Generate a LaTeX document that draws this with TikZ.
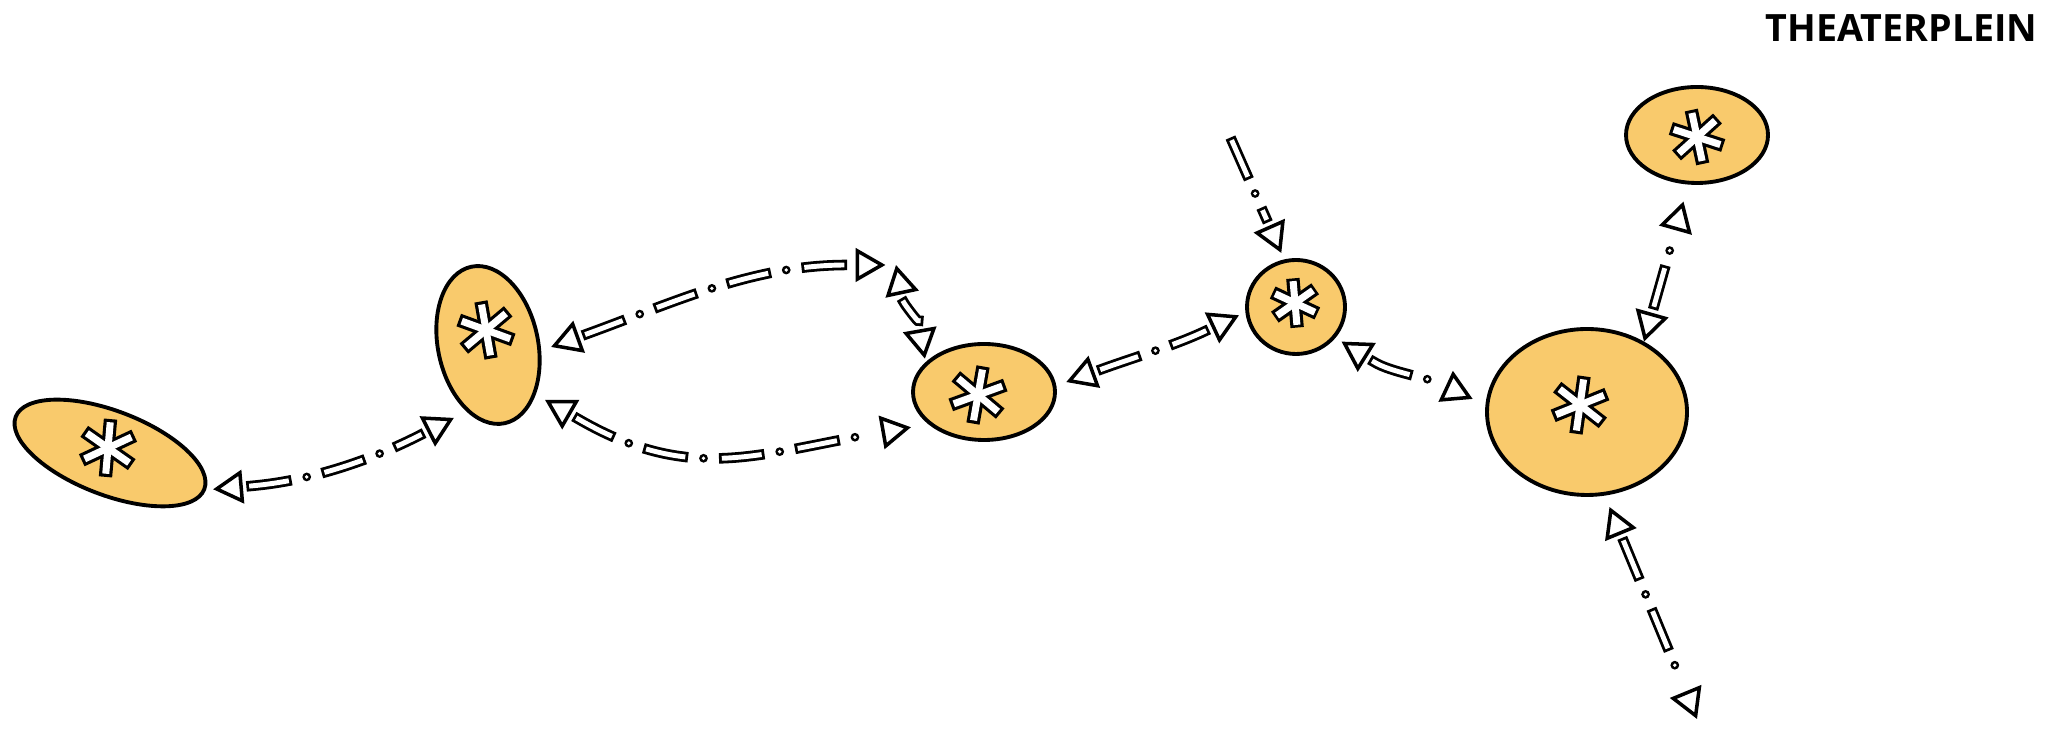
\documentclass[tikz,border=0pt]{standalone}
\usepackage{fontspec}
\setsansfont{Open Sans}
\usepackage{tikz}
\usetikzlibrary{arrows.meta,shapes.geometric}
\definecolor{spotc}{HTML}{F9CA6C}
\tikzset{
  >={Triangle[open,length=8.5pt,width=9.5pt,line width=1pt]},
  ast/.pic={\foreach \a in {90,30,150} \draw[line width=3.8pt] (\a:0.29) -- (\a+180:0.29);
            \foreach \a in {90,30,150} \draw[white,line width=2pt] (\a:0.258) -- (\a+180:0.258);},
}
\begin{document}
\begin{tikzpicture}[
  spot/.style={ellipse,draw,line width=1.1pt,fill=spotc,inner sep=0pt},
  rtbar/.style={double=white,double distance=1.4pt,line width=0.8pt,line cap=rect,dash pattern=on 10pt off 11.8pt},
  rtdot/.style={double=white,double distance=1.1pt,line width=0.7pt,line cap=round,dash pattern=on 0pt off 21.8pt,dash phase=5.9pt},
  rt/.style 2 args={<->,line width=1pt,dash pattern=on 0pt off 600pt,shorten <=#1,shorten >=#2,
    preaction={draw,-,rtbar,shorten <=#1+11pt,shorten >=#2+11pt},
    preaction={draw,-,rtdot,shorten <=#1+11pt,shorten >=#2+11pt}}]
  \useasboundingbox (0,0) rectangle (20.47,7.31);
  \node[spot,minimum width=2.02cm,minimum height=0.84cm,rotate=-21] (n1) at (1.10,2.78) {};
  \node[spot,minimum width=1.0cm,minimum height=1.6cm,rotate=12] (n2) at (4.88,3.86) {};
  \node[spot,minimum width=1.42cm,minimum height=0.96cm] (n3) at (9.84,3.39) {};
  \node[spot,minimum width=0.98cm,minimum height=0.94cm] (n4) at (12.96,4.24) {};
  \node[spot,minimum width=2.0cm,minimum height=1.66cm] (n5) at (15.87,3.19) {};
  \node[spot,minimum width=1.42cm,minimum height=0.96cm] (n6) at (16.97,5.96) {};
  \foreach \x/\y/\r/\s in {1.08/2.83/-5/1,4.86/4.01/10/1,9.78/3.36/-10/1,12.95/4.28/5/0.85,15.80/3.26/-8/1,16.97/5.94/12/0.95}
    \pic[rotate=\r,scale=\s] at (\x,\y) {ast};
  \coordinate (bend) at (8.96,4.66);
  \coordinate (in) at (12.17,6.24);
  \coordinate (out) at (16.97,0.12);
  \draw[rt={2pt}{4pt}] (n1.east) to[out=5,in=207] (n2.240);
  \draw[rt={3pt}{3pt}] (n2.-18) to[out=20,in=180] (bend);
  \draw[rt={0pt}{1pt}] (bend) to[out=-78,in=100] (n3.153);
  \draw[rt={3pt}{5pt}] (n2.-58) to[out=-30,in=190,looseness=1.15] (n3.210);
  \draw[rt={3pt}{2pt}] (n3.5) to[out=20,in=205] (n4.186);
  \draw[rt={0pt}{2pt},->] (in) -- (n4.104);
  \draw[rt={2pt}{4pt}] (n4.-38) to[out=-32,in=155] (n5.176);
  \draw[rt={0pt}{5pt}] (n5.51) -- (n6.260);
  \draw[rt={3.5pt}{0pt}] (n5.-78) -- (out);
  \node[font=\sffamily\bfseries\fontsize{10.7}{12}\selectfont,anchor=east,inner sep=0pt] (title) at (20.38,7.025) {THEATERPLEIN};
\end{tikzpicture}
\end{document}
